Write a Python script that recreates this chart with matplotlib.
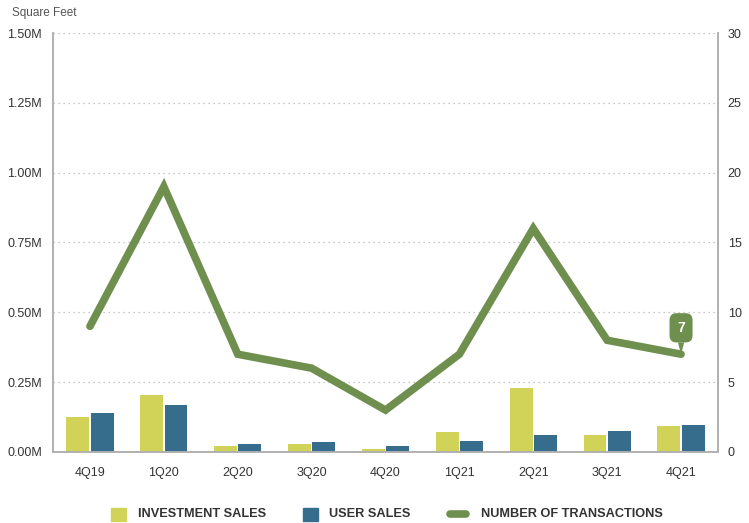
import matplotlib.pyplot as plt
import numpy as np
from matplotlib.patches import Rectangle
from matplotlib.lines import Line2D

quarters = ["4Q19", "1Q20", "2Q20", "3Q20", "4Q20", "1Q21", "2Q21", "3Q21", "4Q21"]
investment_sales = [0.125, 0.204, 0.021, 0.030, 0.012, 0.071, 0.229, 0.061, 0.094]
user_sales = [0.139, 0.168, 0.030, 0.037, 0.022, 0.040, 0.061, 0.075, 0.097]
transactions = [9, 19, 7, 6, 3, 7, 16, 8, 7]

left_ticks = [0, 0.25, 0.5, 0.75, 1.0, 1.25, 1.5]
left_labels = ["0.00M", "0.25M", "0.50M", "0.75M", "1.00M", "1.25M", "1.50M"]
right_ticks = [0, 5, 10, 15, 20, 25, 30]

YELLOW = "#d0d357"
BLUE = "#376d8c"
GREEN = "#6f8f4f"
AXIS = "#b0b0b0"
TEXT = "#333333"

plt.rcParams['font.family'] = ['Liberation Sans', 'DejaVu Sans']

fig = plt.figure(figsize=(7.49, 5.23), dpi=100)
ax = fig.add_axes([0.0708, 0.1358, 0.8878, 0.8011])
ax2 = ax.twinx()

x = np.arange(len(quarters))
w = 0.31
ax.bar(x - w / 2 - 0.01, investment_sales, w, color=YELLOW, zorder=2)
ax.bar(x + w / 2 + 0.01, user_sales, w, color=BLUE, zorder=2)

ax.set_xlim(-0.5, len(quarters) - 0.5)
ax.set_ylim(0, 1.5)
ax.set_yticks(left_ticks)
ax.set_yticklabels(left_labels)
ax.set_xticks(x)
ax.set_xticklabels(quarters)
for t in left_ticks[1:]:
    ax.axhline(t, color="#b5b5b5", linestyle=(0, (1, 3)), linewidth=0.9, zorder=1)

ax2.plot(x, transactions, color=GREEN, linewidth=5.5, solid_capstyle="round",
         solid_joinstyle="miter", zorder=3)
ax2.set_ylim(0, 30)
ax2.set_yticks(right_ticks)

for a in (ax, ax2):
    a.tick_params(length=0, labelsize=9, colors=TEXT)
    a.spines["top"].set_visible(False)
    for s in ("left", "right", "bottom"):
        a.spines[s].set_color(AXIS)
        a.spines[s].set_linewidth(1.2)
ax.tick_params(axis="y", pad=8)
ax2.tick_params(axis="y", pad=7)
ax.tick_params(axis="x", pad=11)

# callout on the last point
ax2.annotate(str(transactions[-1]), xy=(x[-1], transactions[-1]), xytext=(0, 19),
             textcoords="offset points", ha="center", va="center",
             color="white", fontsize=10, fontweight="bold",
             bbox=dict(boxstyle="round,pad=0.55,rounding_size=0.5", fc=GREEN, ec="none"),
             arrowprops=dict(arrowstyle="wedge,tail_width=0.45", fc=GREEN, ec="none",
                             shrinkA=0, shrinkB=0), zorder=4)

fig.text(12 / 749, 1 - 13 / 523, "Square Feet", fontsize=8.5, color="#555555", va="center")

# legend drawn by hand
ly = 1 - 514 / 523
fig.patches.append(Rectangle((111 / 749, 1 - 521 / 523), 15 / 749, 13 / 523,
                             transform=fig.transFigure, color=YELLOW))
fig.text(138 / 749, ly, "INVESTMENT SALES", fontsize=9.2, fontweight="bold", color=TEXT, va="center")
fig.patches.append(Rectangle((303 / 749, 1 - 521 / 523), 15 / 749, 13 / 523,
                             transform=fig.transFigure, color=BLUE))
fig.text(329 / 749, ly, "USER SALES", fontsize=9.2, fontweight="bold", color=TEXT, va="center")
fig.lines.append(Line2D([450 / 749, 466 / 749], [ly, ly], transform=fig.transFigure,
                        color=GREEN, linewidth=5.5, solid_capstyle="round"))
fig.text(481 / 749, ly, "NUMBER OF TRANSACTIONS", fontsize=9.2, fontweight="bold", color=TEXT, va="center")

fig.savefig("out.png", dpi=100)
